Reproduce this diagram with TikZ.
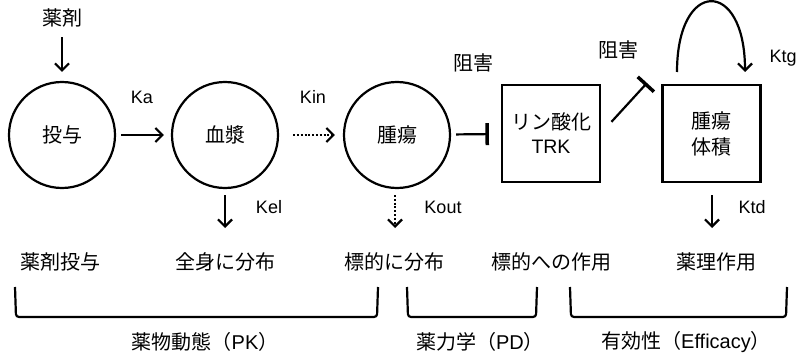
\documentclass[tikz,border=0pt]{standalone}
\usepackage{fontspec}
\setmainfont{Liberation Sans}
\newfontfamily\cjk{Noto Sans CJK JP}
\usetikzlibrary{arrows.meta}
\tikzset{
  lw/.style={line width=2.2pt},
  jp/.style={font=\cjk\fontsize{20}{25}\selectfont, inner sep=0pt},
  lat/.style={font=\fontsize{18}{22}\selectfont, inner sep=0pt},
  circ/.style={circle, draw, lw, minimum size=106pt, inner sep=0pt, font=\cjk\fontsize{20}{25}\selectfont},
  sqbox/.style={draw, lw, minimum width=98pt, minimum height=97pt, inner sep=0pt, align=center, font=\fontsize{20}{25}\selectfont},
  arr/.style={lw, -{Straight Barb[length=7pt,width=14pt,line width=2.2pt]}},
  dotarr/.style={arr, dash pattern=on 2pt off 1.8pt},
  inhib/.style={lw, -{Bar[width=22pt,line width=3.5pt]}},
  brack/.style={lw, rounded corners=3pt}
}
\begin{document}
\begin{tikzpicture}[x=1pt,y=-1pt]
\useasboundingbox (0,0) rectangle (803,361);
% top drug label
\node[jp] (drug) at (62,18) {薬剤};
% circles
\node[circ] (dose) at (62,135) {投与};
\node[circ] (plasma) at (225,135) {血漿};
\node[circ] (tumor) at (397,135) {腫瘍};
% boxes
\node[sqbox] (trk) at (551,133.5) {{\cjk リン酸化}\\[-1pt]{\fontsize{19.5}{22}\selectfont TRK}};
\node[sqbox] (vol) at (711.5,133.5) {{\cjk 腫瘍}\\[1pt]{\cjk 体積}};
% arrows
\draw[arr, shorten <=10pt, shorten >=9pt] (drug) -- (dose);
\draw[arr, shorten <=5pt, shorten >=7pt] (dose) -- (plasma);
\node[lat] (ka) at (142,97) {Ka};
\draw[dotarr, shorten <=14pt, shorten >=8pt] (plasma) -- (tumor);
\node[lat] (kin) at (313,97) {Kin};
\draw[inhib, shorten <=5pt, shorten >=12pt] (tumor) -- (trk);
\node[jp] (inh1) at (473,63) {阻害};
\coordinate (inh2end) at (647,83);
\draw[inhib, shorten <=5pt] (trk.east) ++(7,-8) -- (inh2end);
\node[jp] (inh2) at (618,50) {阻害};
% self loop
\coordinate (loopA) at (677,72);
\coordinate (loopB) at (745,72);
\draw[arr] (loopA) .. controls (677,-22) and (745,-22) .. (loopB);
\node[lat] (ktg) at (783,58) {Ktg};
% outflow arrows
\coordinate (kelA) at (225,195);
\coordinate (kelB) at (225,228);
\draw[arr] (kelA) -- (kelB);
\node[lat] (kel) at (269,207) {Kel};
\coordinate (koutA) at (395,195);
\coordinate (koutB) at (395,228);
\draw[dotarr] (koutA) -- (koutB);
\node[lat] (kout) at (443,207) {Kout};
\coordinate (ktdA) at (712,195);
\coordinate (ktdB) at (712,228);
\draw[arr] (ktdA) -- (ktdB);
\node[lat] (ktd) at (752,207) {Ktd};
% bottom labels
\node[jp] (l1) at (60,262) {薬剤投与};
\node[jp] (l2) at (225,262) {全身に分布};
\node[jp] (l3) at (394,262) {標的に分布};
\node[jp] (l4) at (551,262) {標的への作用};
\node[jp] (l5) at (716,262) {薬理作用};
% brackets
\draw[brack] (15,287) -- (16,317) -- (377,317) -- (378,287);
\draw[brack] (407,287) -- (408,317) -- (536,317) -- (537,287);
\draw[brack] (570,287) -- (571,317) -- (786,317) -- (787,287);
% bracket labels
\node[jp] (pk) at (205,342) {薬物動態（{\fontspec{Liberation Sans}PK}）};
\node[jp] (pd) at (480,342) {薬力学（{\fontspec{Liberation Sans}PD}）};
\node[jp] (eff) at (686,342) {有効性（{\fontspec{Liberation Sans}Efficacy}）};
\end{tikzpicture}
\end{document}
